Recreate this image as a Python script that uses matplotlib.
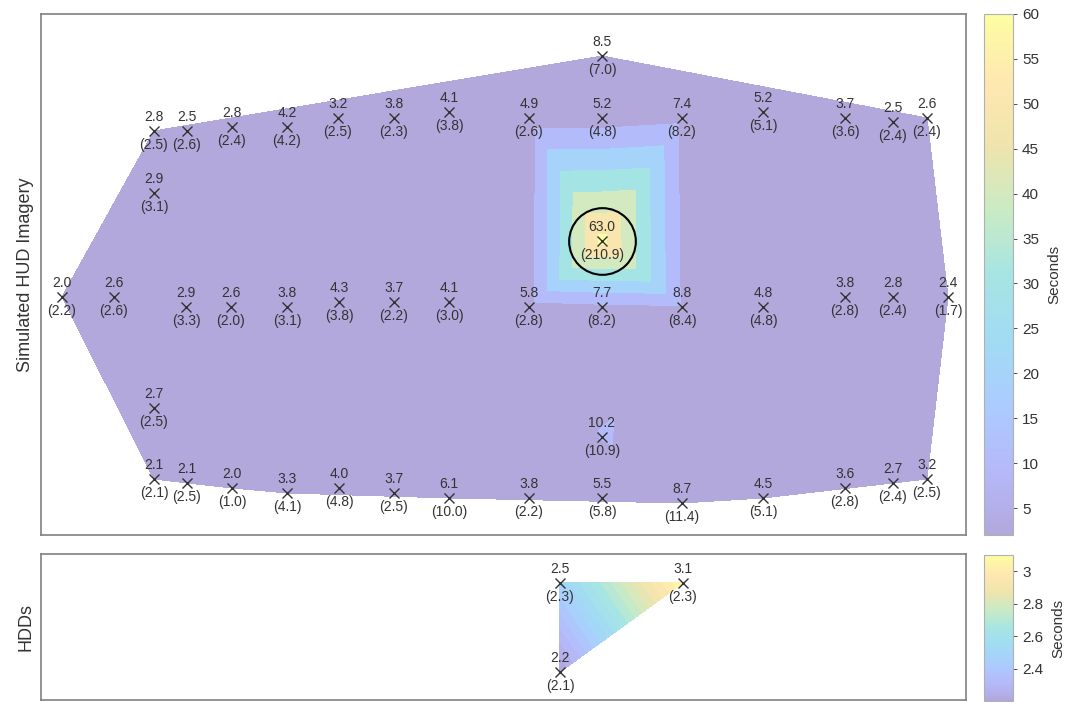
import matplotlib.pyplot as plt
import matplotlib.colors as mpl_colors
import matplotlib.tri as mtri
import numpy as np

plt.rcParams["font.family"] = ["Liberation Sans", "DejaVu Sans"]

# Target positions on the simulated HUD (screen units, origin bottom left)
hud_x = [113, 146, 191, 246, 297, 353, 408, 488, 561, 641, 722, 804, 852, 886,
         561,
         113,
         21, 73, 145, 190, 246, 298, 353, 408, 488, 561, 641, 722, 804, 852, 907,
         561,
         113,
         113, 146, 191, 246, 298, 353, 408, 488, 561, 641, 722, 804, 852, 886,
         561]
hud_y = [404, 404, 408, 408, 417, 417, 423, 417, 417, 417, 423, 417, 413, 417,
         479,
         342,
         238, 238, 228, 228, 228, 233, 233, 233, 228, 228, 228, 228, 238, 238, 238,
         294,
         127,
         56, 52, 47, 42, 47, 42, 37, 37, 37, 32, 37, 47, 52, 56,
         98]
# Mean response time and standard deviation (seconds)
hud_mean = [2.8, 2.5, 2.8, 4.2, 3.2, 3.8, 4.1, 4.9, 5.2, 7.4, 5.2, 3.7, 2.5, 2.6,
            8.5,
            2.9,
            2.0, 2.6, 2.9, 2.6, 3.8, 4.3, 3.7, 4.1, 5.8, 7.7, 8.8, 4.8, 3.8, 2.8, 2.4,
            63.0,
            2.7,
            2.1, 2.1, 2.0, 3.3, 4.0, 3.7, 6.1, 3.8, 5.5, 8.7, 4.5, 3.6, 2.7, 3.2,
            10.2]
hud_sd = [2.5, 2.6, 2.4, 4.2, 2.5, 2.3, 3.8, 2.6, 4.8, 8.2, 5.1, 3.6, 2.4, 2.4,
          7.0,
          3.1,
          2.2, 2.6, 3.3, 2.0, 3.1, 3.8, 2.2, 3.0, 2.8, 8.2, 8.4, 4.8, 2.8, 2.4, 1.7,
          210.9,
          2.5,
          2.1, 2.5, 1.0, 4.1, 4.8, 2.5, 10.0, 2.2, 5.8, 11.4, 5.1, 2.8, 2.4, 2.5,
          10.9]

# Head-down displays
hdd_x = [519, 642, 519]
hdd_y = [117, 117, 28]
hdd_mean = [2.5, 3.1, 2.2]
hdd_sd = [2.3, 2.3, 2.1]

hud_levels = [0, 10, 20, 30, 40, 50, 60, 70]
hdd_levels = [2.2, 2.25, 2.3, 2.35, 2.4, 2.45, 2.5, 2.55, 2.6, 2.65, 2.7, 2.75,
              2.8, 2.85, 2.9, 2.95, 3.0, 3.05, 3.1]

# parula-like map, washed out as if drawn with transparency over white
parula_pts = [
    (0.000, (0.242, 0.150, 0.660)),
    (0.125, (0.278, 0.315, 0.958)),
    (0.250, (0.176, 0.497, 0.992)),
    (0.375, (0.073, 0.651, 0.886)),
    (0.500, (0.130, 0.745, 0.725)),
    (0.625, (0.478, 0.800, 0.427)),
    (0.750, (0.851, 0.733, 0.188)),
    (0.875, (0.992, 0.776, 0.227)),
    (1.000, (0.977, 0.984, 0.081)),
]
alpha = 0.40
faded = [(p, tuple(1 - alpha * (1 - c) for c in rgb)) for p, rgb in parula_pts]
cmap = mpl_colors.LinearSegmentedColormap.from_list("parula_faded", faded)


def band_colors(levels, norm):
    # each filled band takes the colour of its lower level
    return [cmap(np.clip(norm(lv), 0, 1)) for lv in levels[:-1]]


def label_points(ax, xs, ys, means, sds):
    ax.plot(xs, ys, "x", color="#333333", markersize=7, markeredgewidth=1.0)
    for x, y, m, s in zip(xs, ys, means, sds):
        ax.annotate(f"{m:.1f}", (x, y), xytext=(0, 10), textcoords="offset points",
                    ha="center", va="center", fontsize=10, color="#333333")
        ax.annotate(f"({s:.1f})", (x, y), xytext=(0, -10), textcoords="offset points",
                    ha="center", va="center", fontsize=10, color="#333333")


def style_axes(ax):
    ax.set_xticks([])
    ax.set_yticks([])
    for spine in ax.spines.values():
        spine.set_color("#808080")
        spine.set_linewidth(1.2)


fig = plt.figure(figsize=(10.75, 7.02), dpi=100)

ax_hud = fig.add_axes([0.0381, 0.2379, 0.8605, 0.7422])
ax_hdd = fig.add_axes([0.0381, 0.0029, 0.8605, 0.2080])
cax_hud = fig.add_axes([0.9153, 0.2379, 0.0270, 0.7422])
cax_hdd = fig.add_axes([0.9153, 0.0014, 0.0270, 0.2080])

# HUD surface
hud_norm = mpl_colors.Normalize(vmin=2.0, vmax=60)
hud_tri = mtri.Triangulation(hud_x, hud_y)
ax_hud.tricontourf(hud_tri, hud_mean, levels=hud_levels,
                   colors=band_colors(hud_levels, hud_norm))
label_points(ax_hud, hud_x, hud_y, hud_mean, hud_sd)

# highlight the outlier location
peak = int(np.argmax(hud_mean))
ax_hud.plot(hud_x[peak], hud_y[peak], "o", markersize=48, markerfacecolor="none",
            markeredgecolor="black", markeredgewidth=1.5)

ax_hud.set_xlim(0, 925)
ax_hud.set_ylim(0, 521)
ax_hud.set_ylabel("Simulated HUD Imagery", fontsize=13, color="#333333", labelpad=5)
style_axes(ax_hud)

# HDD surface
hdd_norm = mpl_colors.Normalize(vmin=2.2, vmax=3.1)
hdd_tri = mtri.Triangulation(hdd_x, hdd_y)
ax_hdd.tricontourf(hdd_tri, hdd_mean, levels=hdd_levels,
                   colors=band_colors(hdd_levels, hdd_norm))
label_points(ax_hdd, hdd_x, hdd_y, hdd_mean, hdd_sd)
ax_hdd.set_xlim(0, 925)
ax_hdd.set_ylim(0, 146)
ax_hdd.set_ylabel("HDDs", fontsize=13, color="#333333", labelpad=5)
style_axes(ax_hdd)

# colour bars
cb1 = fig.colorbar(plt.cm.ScalarMappable(norm=hud_norm, cmap=cmap), cax=cax_hud)
cb1.set_ticks([5, 10, 15, 20, 25, 30, 35, 40, 45, 50, 55, 60])
cb2 = fig.colorbar(plt.cm.ScalarMappable(norm=hdd_norm, cmap=cmap), cax=cax_hdd)
cb2.set_ticks([2.4, 2.6, 2.8, 3.0])
cb2.set_ticklabels(["2.4", "2.6", "2.8", "3"])
for cb in (cb1, cb2):
    cb.outline.set_edgecolor("#b0b0b0")
    cb.ax.tick_params(labelsize=11, colors="#333333", length=3, width=0.6)
    cb.set_label("Seconds", fontsize=11, color="#333333", labelpad=6)

fig.savefig("out.png", dpi=100)
